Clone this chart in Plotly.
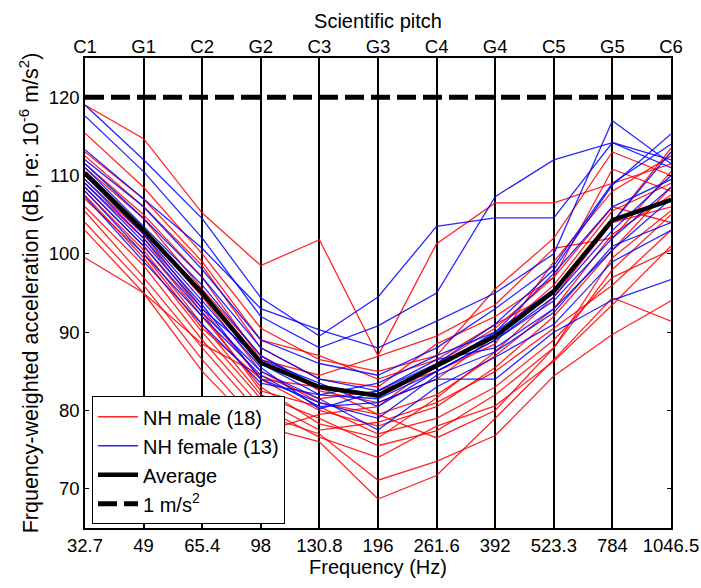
import plotly.graph_objects as go

# Frequency grid (Hz) and matching scientific pitch names
freq_labels = ["32.7", "49", "65.4", "98", "130.8", "196", "261.6", "392", "523.3", "784", "1046.5"]
pitch_labels = ["C1", "G1", "C2", "G2", "C3", "G3", "C4", "G4", "C5", "G5", "C6"]

# Frequency-weighted acceleration per subject (dB re 1e-6 m/s^2)
male = [
    [119.0, 114.7, 105.2, 98.5, 101.8, 87.0, 101.3, 106.5, 106.5, 109.0, 111.5],
    [115.4, 108.5, 100.0, 90.5, 86.5, 85.0, 87.0, 95.5, 102.0, 113.0, 110.0],
    [112.5, 106.0, 98.5, 88.0, 84.0, 83.0, 88.5, 92.0, 97.0, 110.8, 108.0],
    [111.0, 104.5, 95.5, 87.0, 82.5, 81.0, 84.0, 89.5, 96.0, 105.5, 109.0],
    [110.0, 103.0, 94.5, 85.0, 81.0, 79.5, 82.0, 87.0, 93.0, 102.5, 107.5],
    [109.5, 102.5, 93.0, 84.0, 80.0, 78.0, 80.5, 85.5, 92.0, 100.5, 108.5],
    [108.5, 101.0, 92.0, 83.0, 78.3, 76.5, 81.6, 87.5, 94.5, 104.0, 106.0],
    [108.0, 100.5, 91.0, 82.0, 79.0, 75.5, 77.4, 82.0, 88.0, 98.0, 105.0],
    [107.5, 99.5, 90.0, 81.5, 77.5, 78.5, 81.0, 85.0, 90.5, 96.0, 103.0],
    [106.0, 98.5, 89.0, 80.5, 76.6, 74.0, 78.0, 80.6, 86.3, 93.5, 101.0],
    [105.4, 97.0, 88.0, 79.5, 77.0, 71.1, 73.5, 76.8, 84.4, 89.7, 94.0],
    [104.0, 96.0, 86.5, 78.0, 76.0, 68.7, 71.7, 79.0, 86.5, 94.4, 91.4],
    [103.0, 95.0, 85.0, 77.2, 79.5, 80.5, 86.0, 90.5, 97.0, 106.0, 104.0],
    [99.5, 95.0, 88.5, 84.5, 81.5, 82.5, 85.0, 88.5, 99.0, 108.0, 112.5],
    [111.5, 105.0, 97.0, 86.5, 84.5, 86.9, 89.5, 93.5, 100.7, 102.0, 110.5],
    [113.0, 107.0, 99.0, 89.0, 87.0, 84.0, 86.5, 91.0, 95.0, 104.0, 113.5],
    [109.0, 102.0, 92.5, 82.5, 80.5, 77.0, 79.0, 83.0, 89.0, 97.0, 100.5],
    [107.0, 100.0, 90.5, 84.0, 83.0, 79.5, 76.5, 80.0, 88.0, 99.5, 105.5],
]

female = [
    [119.0, 112.0, 104.5, 94.4, 89.5, 94.5, 103.5, 104.6, 104.6, 114.2, 112.0],
    [117.6, 110.5, 102.0, 92.0, 88.0, 90.8, 95.0, 107.3, 112.0, 114.2, 111.0],
    [113.3, 107.0, 100.7, 93.0, 90.3, 88.0, 91.4, 95.0, 100.0, 117.0, 111.5],
    [111.5, 104.5, 97.0, 88.0, 84.0, 82.5, 86.0, 91.0, 98.0, 108.8, 115.3],
    [111.0, 103.5, 96.0, 87.0, 83.0, 82.0, 85.5, 90.0, 95.5, 104.0, 113.0],
    [110.5, 103.0, 95.0, 86.0, 82.0, 81.5, 85.0, 89.0, 94.5, 103.0, 110.0],
    [110.0, 102.5, 94.0, 85.5, 80.2, 82.5, 86.5, 88.0, 93.0, 100.5, 107.0],
    [109.5, 102.0, 93.5, 84.0, 81.0, 79.0, 84.5, 87.5, 92.5, 101.0, 104.0],
    [108.5, 101.0, 92.5, 85.0, 81.5, 77.5, 83.0, 86.8, 91.0, 99.0, 103.0],
    [108.0, 100.0, 92.0, 84.5, 80.5, 81.0, 84.0, 84.0, 90.0, 94.1, 96.7],
    [107.3, 99.0, 91.0, 83.5, 82.0, 83.5, 87.0, 90.0, 97.5, 106.0, 109.5],
    [112.0, 106.0, 98.0, 89.0, 86.0, 84.5, 88.0, 93.0, 98.5, 109.0, 114.0],
    [109.0, 101.5, 93.0, 86.5, 83.5, 80.5, 85.0, 89.0, 94.0, 102.0, 108.5],
]

average = [110.3, 103.0, 95.0, 86.1, 83.0, 81.9, 85.7, 89.5, 95.2, 104.3, 106.9]

# Reference level: 1 m/s^2 = 120 dB re 1e-6 m/s^2
reference_level = [120.0] * len(freq_labels)

FONT = "Liberation Sans, Arial, sans-serif"
TICK_SIZE = 18.5
TITLE_SIZE = 20

fig = go.Figure()

for i, row in enumerate(male):
    fig.add_trace(go.Scatter(
        x=freq_labels, y=row, mode="lines",
        line=dict(color="rgba(255,0,0,0.85)", width=1.3),
        name="NH male (18)", legendgroup="male", showlegend=(i == 0),
    ))

for i, row in enumerate(female):
    fig.add_trace(go.Scatter(
        x=freq_labels, y=row, mode="lines",
        line=dict(color="rgba(0,0,255,0.85)", width=1.3),
        name="NH female (13)", legendgroup="female", showlegend=(i == 0),
    ))

fig.add_trace(go.Scatter(
    x=freq_labels, y=average, mode="lines",
    line=dict(color="black", width=4.5),
    name="Average",
))

fig.add_trace(go.Scatter(
    x=freq_labels, y=reference_level, mode="lines",
    line=dict(color="black", width=5, dash="19px,7px"),
    name="1 m/s<sup>2</sup>",
))

# Invisible trace to activate the top pitch axis
fig.add_trace(go.Scatter(
    x=list(range(len(pitch_labels))), y=reference_level, xaxis="x2",
    mode="lines", line=dict(width=0), opacity=0, showlegend=False, hoverinfo="skip",
))

fig.update_layout(
    width=701, height=588,
    margin=dict(l=85, r=30, t=58, b=60),
    paper_bgcolor="white", plot_bgcolor="white",
    font=dict(family=FONT, size=TICK_SIZE, color="black"),
    xaxis=dict(
        type="category", categoryorder="array", categoryarray=freq_labels,
        range=[0, len(freq_labels) - 1], automargin=False,
        showgrid=True, gridcolor="black", gridwidth=1.5,
        showline=True, linecolor="black", linewidth=1.5, mirror=True,
        ticks="inside", ticklen=4, tickcolor="black",
        tickfont=dict(size=TICK_SIZE),
        title=dict(text="Frequency (Hz)", font=dict(size=TITLE_SIZE), standoff=2),
        zeroline=False,
    ),
    xaxis2=dict(
        overlaying="x", side="top", anchor="y",
        range=[0, len(pitch_labels) - 1], automargin=False,
        tickmode="array", tickvals=list(range(len(pitch_labels))), ticktext=pitch_labels,
        ticks="inside", ticklen=4, tickcolor="black",
        showgrid=False, zeroline=False, showline=False,
        tickfont=dict(size=TICK_SIZE),
        title=dict(text="Scientific pitch", font=dict(size=TITLE_SIZE), standoff=2),
    ),
    yaxis=dict(
        range=[65, 125], automargin=False,
        tickvals=[70, 80, 90, 100, 110, 120],
        showgrid=False, zeroline=False,
        showline=True, linecolor="black", linewidth=1.5, mirror="ticks",
        ticks="inside", ticklen=4, tickcolor="black",
        tickfont=dict(size=TICK_SIZE),
        title=dict(text="Frquency-weighted acceleration (dB, re: 10<sup>-6</sup> m/s<sup>2</sup>)",
                   font=dict(size=21.5), standoff=4),
    ),
    legend=dict(
        x=0.012, y=0.008, xanchor="left", yanchor="bottom",
        bgcolor="white", bordercolor="black", borderwidth=1,
        font=dict(size=TITLE_SIZE), tracegroupgap=0, itemwidth=40,
    ),
    showlegend=True,
)

fig.write_html("out.html")
